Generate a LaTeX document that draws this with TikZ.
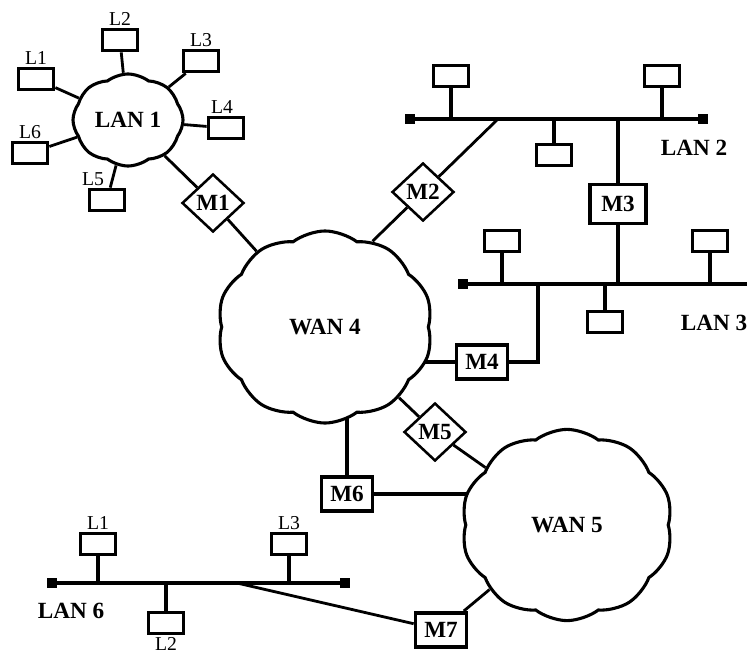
\documentclass[tikz,border=0pt]{standalone}
\usepackage{fontspec}
\setmainfont{Liberation Serif}
\usetikzlibrary{shapes.geometric, shapes.symbols, positioning, backgrounds}
\tikzset{
    host/.style={rectangle, draw, line width=2.5pt, fill=white, minimum width=0.88cm, minimum height=0.53cm, inner sep=0pt},
    mbox/.style={rectangle, draw, line width=2.5pt, fill=white, minimum width=1.28cm, minimum height=0.86cm, inner sep=0pt, font=\fontsize{16.5}{18}\selectfont\bfseries},
    mdiam/.style={diamond, draw, line width=1.8pt, fill=white, minimum width=1.55cm, minimum height=1.45cm, inner sep=0pt, font=\fontsize{16.5}{18}\selectfont\bfseries},
    net/.style={cloud, cloud puffs=10, cloud puff arc=75, cloud ignores aspect, draw, line width=2.2pt, fill=white, font=\fontsize{16.5}{18}\selectfont\bfseries},
    endcap/.style={rectangle, fill=black, minimum size=0.24cm, inner sep=0pt},
    netlabel/.style={font=\fontsize{16.5}{18}\selectfont\bfseries},
    bus/.style={line width=2.5pt},
    link/.style={line width=2pt}
}
\begin{document}
\begin{tikzpicture}[x=0.025cm, y=-0.025cm, every label/.style={font=\fontsize{14}{16}\selectfont, inner sep=1pt}]
    \useasboundingbox (0,0) rectangle (747,664);

    % LAN 1 with its six hosts
    \node (lan1) [net, cloud puffs=8, minimum width=2.75cm, minimum height=2.3cm] at (128,120) {LAN 1};
    \node (l1a) [host, label=above:L1] at (36,79) {};
    \node (l2a) [host, label=above:L2] at (120,40) {};
    \node (l3a) [host, label=above:L3] at (201,61) {};
    \node (l4a) [host, label={[xshift=-0.1cm]above:L4}] at (226,128) {};
    \node (l5a) [host, label={[xshift=-0.35cm]above:L5}] at (107,200) {};
    \node (l6a) [host, label=above:L6] at (30,153) {};

    % WANs and gateways
    \node (wan4) [net, minimum width=5.38cm, minimum height=4.8cm] at (325,327) {WAN 4};
    \node (wan5) [net, minimum width=5.28cm, minimum height=4.78cm] at (567,525) {WAN 5};
    \node (m1) [mdiam] at (213,203) {M1};
    \node (m2) [mdiam] at (423,192) {M2};
    \node (m4) [mbox] at (482,362) {M4};
    \node (m5) [mdiam] at (435,432) {M5};
    \node (m6) [mbox] at (347,494) {M6};
    \node (m7) [mbox] at (441,630) {M7};

    % LAN 2
    \node (lan2w) [endcap] at (410,119) {};
    \node (lan2e) [endcap] at (703,119) {};
    \coordinate (tap2) at (498,119);
    \node (h2a) [host] at (451,76) {};
    \node (h2b) [host] at (662,76) {};
    \node (h2c) [host] at (554,155) {};
    \node (m3) [mbox, minimum width=1.4cm, minimum height=0.98cm] at (618,204) {M3};
    \node (lan2lbl) [netlabel] at (694,148) {LAN 2};

    % LAN 3
    \node (lan3w) [endcap] at (463,284) {};
    \coordinate (lan3e) at (747,284);
    \coordinate (tap3) at (538,284);
    \node (h3a) [host] at (502,241) {};
    \node (h3b) [host] at (710,241) {};
    \node (h3c) [host] at (605,322) {};
    \node (lan3lbl) [netlabel] at (714,323) {LAN 3};

    % LAN 6
    \node (lan6w) [endcap] at (52,583) {};
    \node (lan6e) [endcap] at (345,583) {};
    \coordinate (tap6) at (237,583);
    \node (l1f) [host, label=above:L1] at (98,544) {};
    \node (l3f) [host, label=above:L3] at (289,544) {};
    \node (l2f) [host, label=below:L2] at (166,623) {};
    \node (lan6lbl) [netlabel] at (71,611) {LAN 6};

    % connectors
    \begin{scope}[on background layer]
        \foreach \h in {l1a,l2a,l3a,l4a,l5a,l6a} \draw [link] (\h) -- (lan1);
        \draw [link] (lan1) -- (m1) -- (wan4);
        \draw [link] (wan4.61) -- (m2) -- (tap2);
        \draw [bus] (lan2w) -- (lan2e);
        \foreach \h in {h2a,h2b,h2c} \draw [bus] (\h) -- (\h |- lan2w);
        \draw [bus] (m3) -- (m3 |- lan2w);
        \draw [bus] (m3) -- (m3 |- lan3w);
        \draw [bus] (lan3w) -- (lan3e);
        \foreach \h in {h3a,h3b,h3c} \draw [bus] (\h) -- (\h |- lan3w);
        \draw [bus] (m4) -- (m4 -| wan4);
        \draw [bus] (m4) -| (tap3);
        \draw [link] (wan4) -- (m5) -- (wan5);
        \draw [bus] (m6) -- (m6 |- wan4);
        \draw [bus] (m6) -- (m6 -| wan5);
        \draw [link] (m7) -- (wan5);
        \draw [link] (tap6) -- (m7);
        \draw [bus] (lan6w) -- (lan6e);
        \foreach \h in {l1f,l3f,l2f} \draw [bus] (\h) -- (\h |- lan6w);
    \end{scope}
\end{tikzpicture}
\end{document}
